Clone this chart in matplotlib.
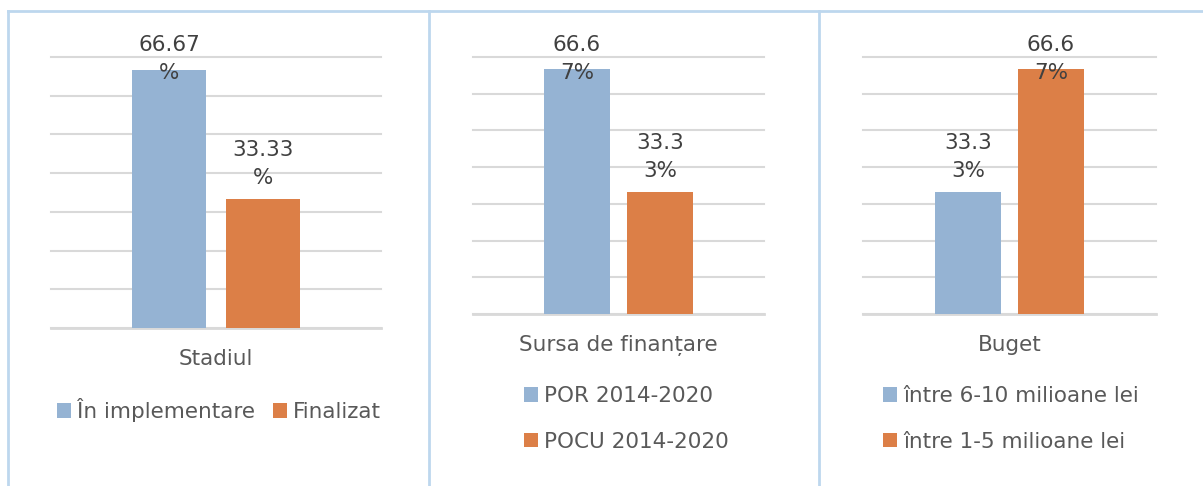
import matplotlib.pyplot as plt
from matplotlib.lines import Line2D

# data
panel_titles = ['Stadiul', 'Sursa de finanțare', 'Buget']
series_names = [['În implementare', 'Finalizat'],
                ['POR 2014-2020', 'POCU 2014-2020'],
                ['între 6-10 milioane lei', 'între 1-5 milioane lei']]
values = [[66.67, 33.33],
          [66.67, 33.33],
          [33.33, 66.67]]
label_texts = [['66.67\n%', '33.33\n%'],
               ['66.6\n7%', '33.3\n3%'],
               ['33.3\n3%', '66.6\n7%']]

colors = ['#95B3D3', '#DC7F47']
grid_col = '#D9D9D9'
border_col = '#BDD7EE'
W, H = 1203, 486
fs = 15.5

# axes boxes in pixels: left, right, top, bottom
boxes = [(51, 381, 57, 328), (473, 764, 57, 314), (863, 1156, 57, 314)]
bar_w = [0.224, 0.227, 0.225]
bar_gap = [0.061, 0.058, 0.058]

plt.rcParams['font.family'] = ['DejaVu Sans']
fig = plt.figure(figsize=(W / 100, H / 100), dpi=100)

for i in range(3):
    l, r, t, b = boxes[i]
    ax = fig.add_axes([l / W, 1 - b / H, (r - l) / W, (b - t) / H])
    ax.set_xlim(0, 1)
    ax.set_ylim(0, 70)
    for j in range(2):
        x = 0.5 + (j - 0.5) * (bar_w[i] + bar_gap[i])
        v = values[i][j]
        ax.bar(x, v, width=bar_w[i], color=colors[j], label=series_names[i][j], zorder=3)
        if v > 50:
            ax.annotate(label_texts[i][j], (x, 70), xytext=(0, 16), textcoords='offset points',
                        ha='center', va='top', fontsize=fs, color='#404040',
                        linespacing=1.5, annotation_clip=False, zorder=4)
        else:
            ax.annotate(label_texts[i][j], (x, v), xytext=(0, 8), textcoords='offset points',
                        ha='center', va='bottom', fontsize=fs, color='#404040',
                        linespacing=1.5, zorder=4)
    ax.set_yticks(range(0, 71, 10))
    ax.yaxis.grid(True, color=grid_col, linewidth=1.5, zorder=0)
    for gl in ax.get_ygridlines():
        gl.set_clip_on(False)
    ax.tick_params(axis='y', left=False, labelleft=False)
    ax.set_xticks([0.5])
    ax.set_xticklabels([panel_titles[i]], fontsize=fs, color='#595959')
    ax.tick_params(axis='x', length=0, pad=15)
    for s in ax.spines.values():
        s.set_visible(False)
    ax.axhline(0, color=grid_col, linewidth=2, zorder=2, clip_on=False)

    if i == 0:
        ax.legend(loc='center left', bbox_to_anchor=(57 / W, 1 - 410 / H),
                  bbox_transform=fig.transFigure, ncol=2, frameon=False,
                  fontsize=fs, labelcolor='#595959', handlelength=0.65, handleheight=0.65,
                  handletextpad=0.3, columnspacing=0.8, borderpad=0, borderaxespad=0)
    else:
        lx = 524 if i == 1 else 883
        ax.legend(loc='upper left', bbox_to_anchor=(lx / W, 1 - 386 / H),
                  bbox_transform=fig.transFigure, ncol=1, frameon=False,
                  fontsize=fs, labelcolor='#595959', handlelength=0.65, handleheight=0.65,
                  handletextpad=0.3, labelspacing=1.2, borderpad=0, borderaxespad=0)

# panel borders
fig.add_artist(Line2D([8 / W, 1], [1 - 11 / H, 1 - 11 / H], color=border_col, linewidth=2))
for px in [8, 428.5, 819]:
    fig.add_artist(Line2D([px / W, px / W], [0, 1 - 11 / H], color=border_col, linewidth=2))

fig.savefig('out.png', dpi=100)
